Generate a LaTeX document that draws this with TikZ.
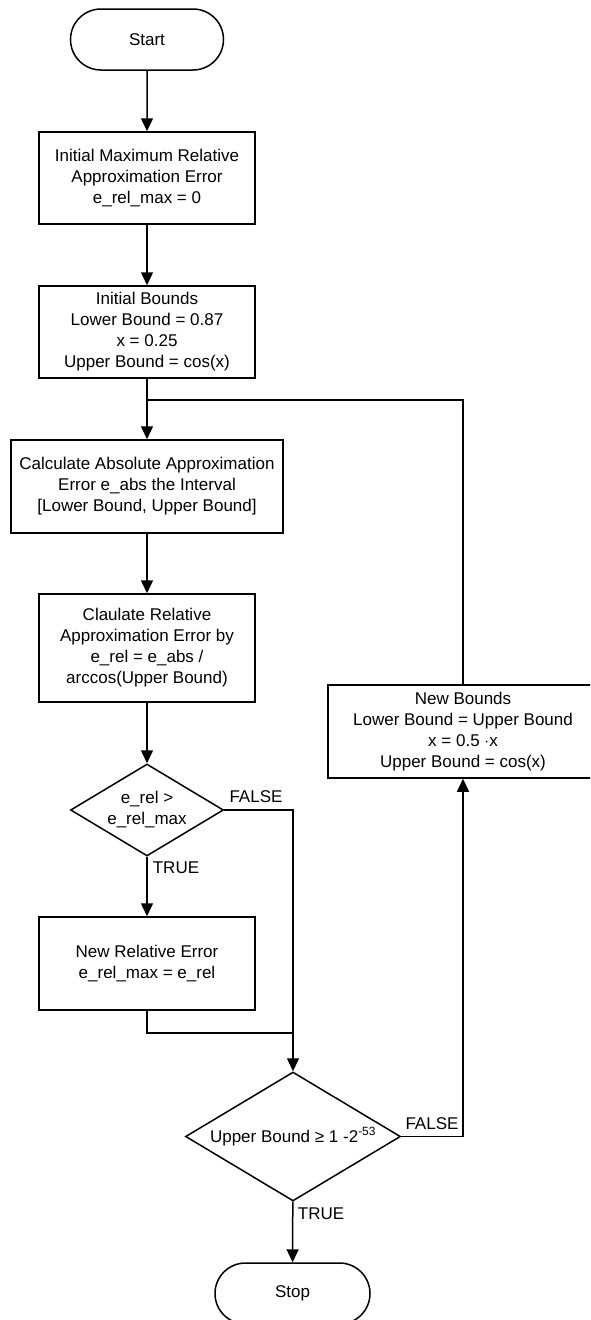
\documentclass[tikz,border=0pt]{standalone}
\usepackage{fontspec}
\setmainfont{Liberation Sans}
\usetikzlibrary{arrows.meta,shapes.misc,shapes.geometric}

\tikzset{
  base/.style={draw=black, line width=1.5pt, align=center, inner sep=0pt,
    font=\fontsize{17}{21}\selectfont},
  terminal/.style={base, rounded rectangle, minimum width=#1, minimum height=61pt},
  procbox/.style={base, rectangle, minimum width=#1},
  decision/.style={base, diamond, aspect=1.66},
  flow/.style={draw=black, line width=1.5pt, -{Triangle[length=13pt,width=12pt]}},
  link/.style={draw=black, line width=1.5pt},
  branch/.style={font=\fontsize{17}{21}\selectfont, inner sep=0pt}
}

\begin{document}
\begin{tikzpicture}[x=1pt, y=-1pt]
  \clip (0,0) rectangle (590,1320);
  \fill[white] (0,0) rectangle (590,1320);

  % main column
  \node[terminal=153pt] (start) at (147,39.5) {Start};
  \node[procbox=216pt, minimum height=92pt] (init) at (147,178)
    {Initial Maximum Relative\\Approximation Error\\e\_rel\_max = 0};
  \node[procbox=216pt, minimum height=92pt] (bounds) at (147,332)
    {Initial Bounds\\Lower Bound = 0.87\\x = 0.25\\Upper Bound = cos(x)};
  \node[procbox=272pt, minimum height=93pt] (absErr) at (147,486.5)
    {Calculate Absolute Approximation\\Error e\_abs the Interval\\[0pt][Lower Bound, Upper Bound]};
  \node[procbox=216pt, minimum height=108pt] (relErr) at (147,648)
    {Claulate Relative\\Approximation Error by\\e\_rel = e\_abs /\\arccos(Upper Bound)};
  \node[decision, minimum width=153pt, minimum height=92pt] (cmp) at (147,810)
    {e\_rel >\\e\_rel\_max};
  \node[procbox=216pt, minimum height=93pt] (newRel) at (147,963.5)
    {New Relative Error\\e\_rel\_max = e\_rel};

  % convergence test and loop body
  \node[decision, minimum width=215pt, minimum height=129pt] (conv) at (293,1136.5)
    {Upper Bound ≥ 1 -2\textsuperscript{-53}};
  \node[procbox=270pt, minimum height=93pt] (newBounds) at (463,731.5)
    {New Bounds\\Lower Bound = Upper Bound\\x = 0.5 $\cdot$x\\Upper Bound = cos(x)};
  \node[terminal=155pt] (stop) at (292.5,1293.5) {Stop};

  \coordinate (loopJoin) at (147,400);
  \coordinate (merge) at (293,1033);

  % connectors
  \draw[flow] (start) -- (init);
  \draw[flow] (init) -- (bounds);
  \draw[flow] (bounds) -- (absErr);
  \draw[flow] (absErr) -- (relErr);
  \draw[flow] (relErr) -- (cmp);
  \draw[flow] (cmp) -- (newRel);
  \draw[flow] (cmp.east) -| (conv.north);
  \draw[link] (newRel.south) |- (merge);
  \draw[flow] (conv.east) -| (newBounds.south);
  \draw[link] (newBounds.north) |- (loopJoin);
  \draw[flow] (conv) -- (stop);

  % branch labels
  \node[branch] (cmpFalse) at (256,797) {FALSE};
  \node[branch] (cmpTrue) at (176,868) {TRUE};
  \node[branch] (convFalse) at (432,1124) {FALSE};
  \node[branch] (convTrue) at (321,1214) {TRUE};
\end{tikzpicture}
\end{document}
